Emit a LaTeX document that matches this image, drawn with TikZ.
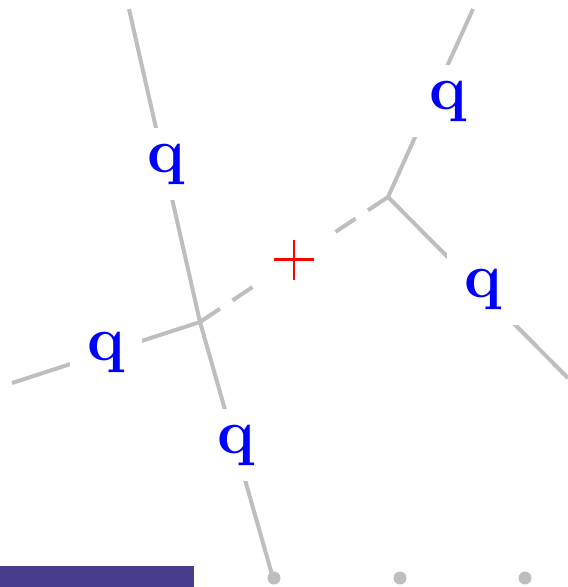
\documentclass[tikz,border=0pt]{standalone}
\usepackage{fontspec}
\definecolor{leggray}{RGB}{190,190,190}
\definecolor{qblue}{RGB}{0,0,255}
\definecolor{barpurple}{RGB}{72,61,139}

\begin{document}
\begin{tikzpicture}[line cap=butt,x=1pt,y=-1pt,
  leg/.style={draw=leggray,line width=4pt},
  ghost/.style={leg,dash pattern=on 24pt off 15pt},
  qlabel/.style={fill=white,inner sep=0pt,minimum width=72pt,minimum height=72pt,
    text=qblue,font=\fontsize{63}{63}\selectfont\bfseries},
  crossbox/.style={fill=white,inner sep=0pt,minimum size=72pt},
  plusline/.style={draw=red,line width=2.2pt}]
  \useasboundingbox (0,0) rectangle (568,587);
  % vertices and free ends
  \coordinate (vL) at (200,322);
  \coordinate (vR) at (388,197);
  \coordinate (mid) at (294,259.5);
  \coordinate (eUL) at (129,9);
  \coordinate (eW) at (12,383);
  \coordinate (eD) at (273,578);
  \coordinate (eUR) at (473,9);
  \coordinate (eE) at (568,378);
  % legs
  \draw[leg] (vL) -- (eUL);
  \draw[leg] (vL) -- (eW);
  \draw[leg] (vL) -- (eD);
  \draw[leg] (vR) -- (eUR);
  \draw[leg] (vR) -- (eE);
  \draw[ghost] (vL) -- (mid);
  \draw[ghost] (vR) -- (mid);
  % labels
  \node[qlabel] (qUL) at (166,164) {q};
  \node[qlabel] (qW) at (106,352) {q};
  \node[qlabel] (qD) at (236,445) {q};
  \node[qlabel] (qUR) at (448,101) {q};
  \node[qlabel] (qE) at (483,289) {q};
  \node[crossbox] (cross) at (mid) {};
  \draw[plusline] ([xshift=-20pt]cross.center) -- ([xshift=20pt]cross.center);
  \draw[plusline] ([yshift=-20pt]cross.center) -- ([yshift=20pt]cross.center);
  % bottom strip
  \fill[barpurple] (0,566) rectangle (194,587);
  \foreach \x in {274,400,525}
    \fill[leggray] (\x,578) circle (6.5pt);
\end{tikzpicture}
\end{document}
